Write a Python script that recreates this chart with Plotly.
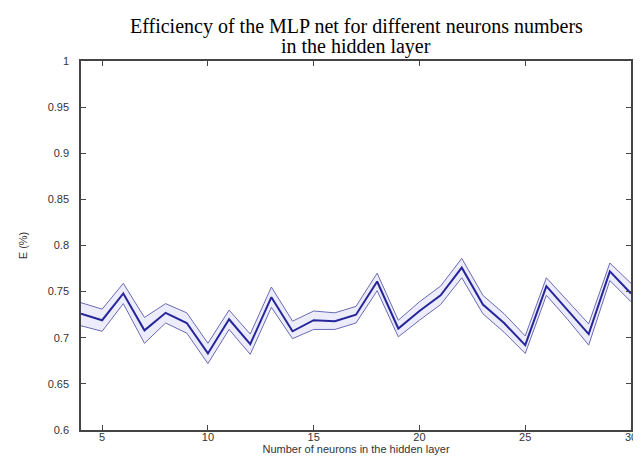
import plotly.graph_objects as go

neurons = list(range(4, 31))
eff_mean = [0.726, 0.719, 0.748, 0.708, 0.727, 0.716, 0.683, 0.720, 0.693, 0.744,
            0.707, 0.719, 0.718, 0.725, 0.761, 0.710, 0.729, 0.746, 0.776, 0.736,
            0.716, 0.692, 0.756, 0.730, 0.704, 0.772, 0.748]
eff_upper = [0.738, 0.731, 0.759, 0.722, 0.737, 0.727, 0.694, 0.730, 0.704, 0.755,
             0.718, 0.729, 0.727, 0.734, 0.770, 0.719, 0.739, 0.756, 0.786, 0.746,
             0.726, 0.702, 0.765, 0.740, 0.715, 0.781, 0.759]
eff_lower = [0.713, 0.707, 0.737, 0.694, 0.716, 0.705, 0.672, 0.709, 0.682, 0.733,
             0.699, 0.709, 0.709, 0.716, 0.751, 0.701, 0.719, 0.736, 0.765, 0.726,
             0.706, 0.683, 0.746, 0.720, 0.692, 0.762, 0.739]

x_ticks = [5, 10, 15, 20, 25, 30]
y_ticks = [0.6, 0.65, 0.7, 0.75, 0.8, 0.85, 0.9, 0.95, 1.0]
y_tick_text = ["0.6", "0.65", "0.7", "0.75", "0.8", "0.85", "0.9", "0.95", "1"]
title_lines = ["Efficiency of the MLP net for different neurons numbers",
               "in the hidden layer"]

fig = go.Figure()
fig.add_trace(go.Scatter(x=neurons, y=eff_lower, mode="lines",
                         line=dict(color="#6a6ab4", width=1), showlegend=False,
                         hoverinfo="skip"))
fig.add_trace(go.Scatter(x=neurons, y=eff_upper, mode="lines",
                         line=dict(color="#6a6ab4", width=1), fill="tonexty",
                         fillcolor="rgba(220,220,250,0.55)", showlegend=False,
                         hoverinfo="skip"))
fig.add_trace(go.Scatter(x=neurons, y=eff_mean, mode="lines",
                         line=dict(color="#26269a", width=2), showlegend=False))

axis_common = dict(showline=True, linecolor="#444444", linewidth=1.5, mirror="ticks",
                   ticks="inside", ticklen=5, tickcolor="#444444", showgrid=False,
                   zeroline=False,
                   tickfont=dict(family="Liberation Sans", size=11, color="#333333"))

fig.update_xaxes(range=[4, 30], tickvals=x_ticks, ticklabelstandoff=-4,
                 title=dict(text="Number of neurons in the hidden layer",
                            font=dict(family="Liberation Sans", size=11, color="#333333"),
                            standoff=0),
                 **axis_common)
fig.update_yaxes(range=[0.6, 1.0], tickvals=y_ticks, ticktext=y_tick_text,
                 ticklabelstandoff=8,
                 title=dict(text="E (%)",
                            font=dict(family="Liberation Sans", size=11, color="#333333"),
                            standoff=18),
                 **axis_common)

title_centers_px = [19, 38]
for line, cy in zip(title_lines, title_centers_px):
    fig.add_annotation(text=line, xref="paper", yref="paper", x=0.5, xanchor="center",
                       y=1 + (53 - cy) / 369.0, yanchor="middle", showarrow=False,
                       borderpad=0,
                       font=dict(family="Liberation Serif", size=20, color="black"))

fig.update_layout(
    width=641, height=461,
    margin=dict(l=73, r=13, t=53, b=39),
    paper_bgcolor="white", plot_bgcolor="white",
)

fig.write_html("out.html")
